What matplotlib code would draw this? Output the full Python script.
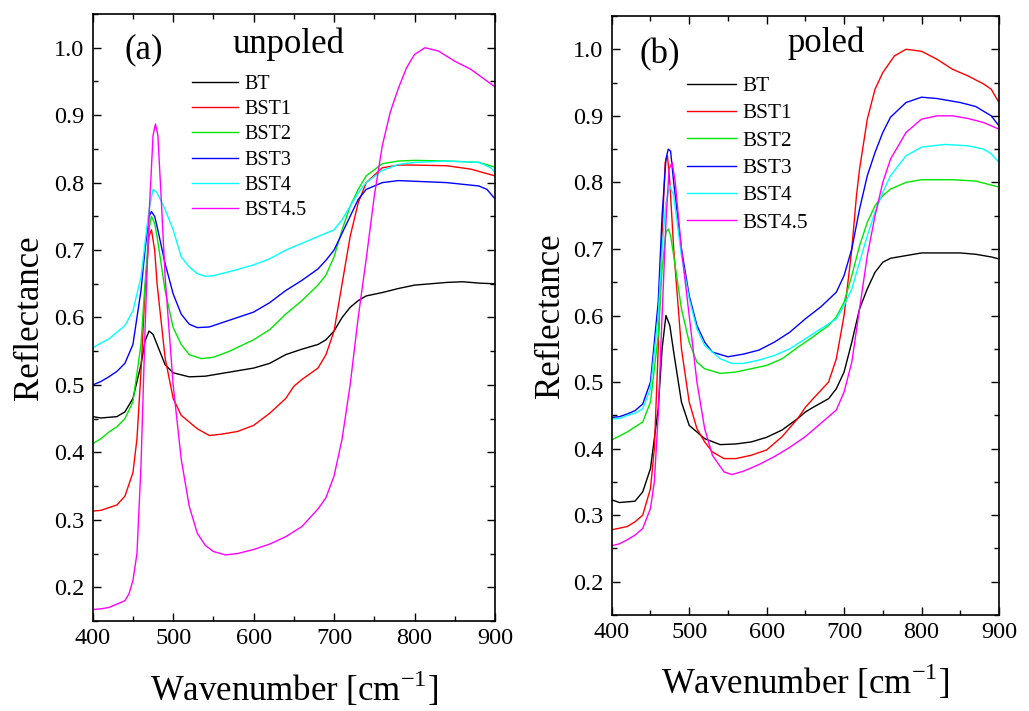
#!/usr/bin/env python3
import matplotlib
matplotlib.use('Agg')
import matplotlib.pyplot as plt
from matplotlib.ticker import MultipleLocator

plt.rcParams['font.family'] = ['Liberation Serif', 'DejaVu Serif']
plt.rcParams['mathtext.fontset'] = 'custom'
plt.rcParams['mathtext.rm'] = 'Liberation Serif'

labels = ['BT', 'BST1', 'BST2', 'BST3', 'BST4', 'BST4.5']
colors = ['#000000', '#ff0000', '#00e600', '#0000ff', '#00ffff', '#ff00ff']

# ---- (a) unpoled : (wavenumber, reflectance) ----
un_bt_x = [400, 410, 420, 430, 440, 450, 460, 465, 470, 475, 480, 490, 500, 520, 540, 560, 580, 600,
           620, 640, 660, 680, 690, 700, 710, 720, 730, 740, 760, 780, 800, 820, 840, 860, 880, 900]
un_bt_y = [0.453, 0.451, 0.452, 0.453, 0.460, 0.480, 0.530, 0.565, 0.580, 0.575, 0.560, 0.530, 0.518,
           0.512, 0.513, 0.517, 0.521, 0.525, 0.532, 0.545, 0.553, 0.560, 0.567, 0.580, 0.600, 0.615,
           0.625, 0.632, 0.637, 0.643, 0.648, 0.650, 0.652, 0.653, 0.651, 0.650]

un_bst1_x = [400, 410, 420, 430, 440, 450, 455, 460, 465, 470, 473, 477, 480, 490, 500, 510, 520, 530,
             545, 560, 580, 600, 620, 640, 650, 660, 680, 690, 700, 710, 720, 730, 740, 760, 780, 800,
             840, 870, 900]
un_bst1_y = [0.313, 0.314, 0.318, 0.322, 0.335, 0.370, 0.420, 0.520, 0.640, 0.720, 0.730, 0.700, 0.650,
             0.540, 0.480, 0.455, 0.445, 0.435, 0.425, 0.427, 0.431, 0.440, 0.458, 0.480, 0.498, 0.508,
             0.525, 0.545, 0.580, 0.650, 0.720, 0.770, 0.800, 0.822, 0.826, 0.826, 0.825, 0.820, 0.810]

un_bst2_x = [400, 410, 420, 430, 440, 450, 460, 465, 470, 473, 477, 480, 490, 500, 510, 520, 535, 550,
             570, 600, 620, 640, 660, 680, 690, 700, 710, 720, 730, 740, 760, 780, 800, 840, 880, 900]
un_bst2_y = [0.413, 0.420, 0.430, 0.438, 0.450, 0.475, 0.560, 0.650, 0.730, 0.750, 0.740, 0.720, 0.640,
             0.585, 0.560, 0.545, 0.539, 0.541, 0.550, 0.567, 0.582, 0.605, 0.625, 0.648, 0.663, 0.690,
             0.730, 0.765, 0.790, 0.810, 0.828, 0.832, 0.833, 0.832, 0.830, 0.823]

un_bst3_x = [400, 410, 420, 430, 440, 450, 460, 465, 470, 473, 477, 480, 490, 500, 510, 520, 530, 545,
             560, 580, 600, 620, 640, 660, 680, 690, 700, 710, 720, 730, 740, 760, 780, 800, 840, 880,
             890, 900]
un_bst3_y = [0.500, 0.505, 0.512, 0.520, 0.532, 0.560, 0.640, 0.700, 0.750, 0.757, 0.750, 0.735, 0.680,
             0.635, 0.605, 0.590, 0.585, 0.586, 0.592, 0.600, 0.608, 0.622, 0.640, 0.655, 0.672, 0.685,
             0.700, 0.725, 0.750, 0.775, 0.790, 0.800, 0.803, 0.802, 0.800, 0.795, 0.790, 0.776]

un_bst4_x = [400, 410, 420, 430, 440, 450, 460, 465, 470, 475, 480, 490, 500, 510, 520, 530, 540, 550,
             570, 600, 620, 640, 660, 680, 700, 710, 720, 730, 740, 760, 780, 800, 840, 880, 895, 900]
un_bst4_y = [0.555, 0.562, 0.568, 0.578, 0.588, 0.610, 0.660, 0.710, 0.760, 0.790, 0.785, 0.760, 0.730,
             0.690, 0.675, 0.665, 0.661, 0.662, 0.668, 0.678, 0.687, 0.700, 0.710, 0.720, 0.730, 0.745,
             0.765, 0.785, 0.800, 0.818, 0.827, 0.830, 0.832, 0.830, 0.822, 0.815]

un_bst45_x = [400, 410, 420, 430, 440, 445, 450, 455, 460, 465, 470, 475, 478, 481, 485, 490, 500, 510,
              520, 530, 540, 550, 565, 580, 600, 620, 640, 660, 680, 690, 700, 710, 720, 730, 740, 750,
              760, 770, 780, 790, 800, 813, 830, 850, 870, 885, 900]
un_bst45_y = [0.167, 0.168, 0.170, 0.175, 0.180, 0.190, 0.210, 0.250, 0.380, 0.580, 0.750, 0.870, 0.887,
              0.870, 0.780, 0.660, 0.500, 0.390, 0.320, 0.280, 0.262, 0.253, 0.248, 0.250, 0.256, 0.264,
              0.275, 0.290, 0.316, 0.333, 0.365, 0.420, 0.500, 0.600, 0.687, 0.780, 0.855, 0.905, 0.940,
              0.970, 0.990, 1.000, 0.995, 0.980, 0.968, 0.955, 0.942]

# ---- (b) poled ----
po_bt_x = [400, 410, 430, 440, 450, 460, 465, 470, 475, 480, 490, 500, 520, 540, 560, 580, 600, 620,
           640, 650, 660, 680, 690, 700, 710, 720, 730, 740, 750, 760, 780, 800, 820, 850, 870, 890, 900]
po_bt_y = [0.323, 0.319, 0.321, 0.335, 0.370, 0.460, 0.550, 0.600, 0.585, 0.545, 0.470, 0.435, 0.415,
           0.406, 0.407, 0.410, 0.417, 0.428, 0.445, 0.455, 0.462, 0.475, 0.490, 0.515, 0.560, 0.610,
           0.640, 0.665, 0.680, 0.686, 0.690, 0.694, 0.694, 0.694, 0.692, 0.688, 0.685]

po_bst1_x = [400, 420, 430, 440, 450, 455, 460, 465, 469, 472, 475, 480, 490, 500, 510, 520, 530, 545,
             560, 580, 600, 620, 640, 650, 660, 680, 690, 700, 710, 716, 720, 730, 740, 750, 765, 780,
             800, 820, 840, 860, 880, 890, 900]
po_bst1_y = [0.278, 0.283, 0.290, 0.300, 0.340, 0.400, 0.550, 0.720, 0.830, 0.840, 0.800, 0.700, 0.550,
             0.470, 0.430, 0.410, 0.395, 0.385, 0.385, 0.390, 0.398, 0.418, 0.445, 0.462, 0.475, 0.500,
             0.535, 0.600, 0.700, 0.780, 0.820, 0.895, 0.940, 0.965, 0.990, 1.000, 0.997, 0.985, 0.970,
             0.960, 0.948, 0.940, 0.920]

po_bst2_x = [400, 420, 440, 450, 460, 465, 470, 473, 476, 480, 490, 500, 510, 520, 540, 560, 580, 600,
             620, 640, 660, 680, 690, 700, 710, 720, 730, 740, 750, 760, 780, 800, 840, 870, 900]
po_bst2_y = [0.413, 0.425, 0.440, 0.470, 0.570, 0.670, 0.725, 0.730, 0.720, 0.690, 0.610, 0.560, 0.530,
             0.520, 0.513, 0.515, 0.520, 0.525, 0.535, 0.552, 0.568, 0.585, 0.598, 0.620, 0.660, 0.705,
             0.740, 0.765, 0.780, 0.790, 0.800, 0.804, 0.804, 0.802, 0.793]

po_bst3_x = [400, 410, 420, 430, 440, 450, 460, 465, 470, 473, 476, 480, 490, 500, 510, 520, 530, 550,
             570, 590, 610, 630, 650, 670, 690, 700, 710, 720, 730, 740, 750, 760, 780, 800, 820, 850,
             870, 890, 900]
po_bst3_y = [0.447, 0.448, 0.452, 0.457, 0.467, 0.500, 0.620, 0.750, 0.835, 0.850, 0.847, 0.800, 0.700,
             0.630, 0.585, 0.560, 0.545, 0.538, 0.542, 0.548, 0.560, 0.575, 0.595, 0.613, 0.635, 0.660,
             0.700, 0.760, 0.810, 0.845, 0.875, 0.898, 0.920, 0.928, 0.926, 0.920, 0.914, 0.900, 0.885]

po_bst4_x = [400, 410, 420, 430, 440, 450, 460, 465, 470, 475, 480, 490, 500, 510, 520, 540, 555, 570,
             590, 610, 630, 650, 670, 690, 700, 710, 720, 730, 740, 750, 760, 780, 800, 830, 860, 880,
             890, 900]
po_bst4_y = [0.445, 0.445, 0.450, 0.453, 0.460, 0.490, 0.600, 0.700, 0.770, 0.795, 0.780, 0.690, 0.625,
             0.580, 0.555, 0.535, 0.528, 0.528, 0.533, 0.540, 0.550, 0.565, 0.580, 0.595, 0.615, 0.640,
             0.680, 0.720, 0.755, 0.785, 0.810, 0.840, 0.853, 0.857, 0.855, 0.850, 0.843, 0.830]

po_bst45_x = [400, 410, 420, 430, 440, 450, 455, 460, 465, 470, 474, 478, 482, 490, 500, 510, 520, 530,
              545, 555, 570, 590, 610, 630, 650, 670, 690, 700, 710, 720, 730, 740, 750, 760, 780, 800,
              820, 840, 860, 880, 900]
po_bst45_y = [0.254, 0.257, 0.263, 0.270, 0.280, 0.310, 0.350, 0.450, 0.600, 0.740, 0.820, 0.830, 0.800,
              0.700, 0.600, 0.500, 0.430, 0.390, 0.365, 0.361, 0.366, 0.376, 0.388, 0.402, 0.418, 0.438,
              0.458, 0.485, 0.530, 0.610, 0.690, 0.750, 0.800, 0.835, 0.875, 0.895, 0.900, 0.900, 0.896,
              0.890, 0.880]

unpoled = [(un_bt_x, un_bt_y), (un_bst1_x, un_bst1_y), (un_bst2_x, un_bst2_y),
           (un_bst3_x, un_bst3_y), (un_bst4_x, un_bst4_y), (un_bst45_x, un_bst45_y)]
poled = [(po_bt_x, po_bt_y), (po_bst1_x, po_bst1_y), (po_bst2_x, po_bst2_y),
         (po_bst3_x, po_bst3_y), (po_bst4_x, po_bst4_y), (po_bst45_x, po_bst45_y)]


def drawPanel(ax, series, tag, title, tagPos, titlePos, legAnchor, legSize, legSpacing):
    for (x, y), lab, c in zip(series, labels, colors):
        ax.plot(x, y, color=c, lw=1.0, label=lab)

    ax.set_xlim(400, 900)
    ax.set_ylim(0.15, 1.05)
    ax.xaxis.set_major_locator(MultipleLocator(100))
    ax.xaxis.set_minor_locator(MultipleLocator(50))
    ax.yaxis.set_major_locator(MultipleLocator(0.1))
    ax.yaxis.set_minor_locator(MultipleLocator(0.05))
    ax.tick_params(which='both', direction='in', top=True, right=True, width=1.0)
    ax.tick_params(which='major', length=6)
    ax.tick_params(which='minor', length=3.5)
    ax.tick_params(axis='x', labelsize=17.5, pad=5)
    ax.tick_params(axis='y', labelsize=17.5, pad=6)
    for s in ax.spines.values():
        s.set_linewidth(1.2)

    ax.set_xlabel(r'Wavenumber [cm$^{\mathrm{-1}}$]', fontsize=25)
    ax.set_ylabel('Reflectance', fontsize=25)
    ax.xaxis.label.set_va('center')
    ax.yaxis.label.set_va('center')
    ax.xaxis.set_label_coords(0.5, -0.112)
    ax.yaxis.set_label_coords(-0.158, 0.5)

    ax.text(tagPos[0], tagPos[1], tag, fontsize=25, va='center', ha='left')
    ax.text(titlePos[0], titlePos[1], title, fontsize=25, va='center', ha='left')

    ax.legend(loc='center left', bbox_to_anchor=legAnchor, bbox_transform=ax.transData,
              frameon=False, fontsize=legSize, handlelength=2.3, handletextpad=0.3,
              labelspacing=legSpacing, borderpad=0, borderaxespad=0)


fig = plt.figure(figsize=(10.29, 7.11), dpi=100)
axA = fig.add_axes([0.0901, 0.1266, 0.3909, 0.8537])
axB = fig.add_axes([0.5945, 0.1350, 0.3763, 0.8425])

drawPanel(axA, unpoled, '(a)', 'unpoled', (439, 0.997), (574, 1.005), (523, 0.852), 14.5, 0.31)
drawPanel(axB, poled, '(b)', 'poled', (436, 0.992), (627, 1.009), (497, 0.842), 15.3, 0.35)

fig.savefig('out.png', dpi=100)
